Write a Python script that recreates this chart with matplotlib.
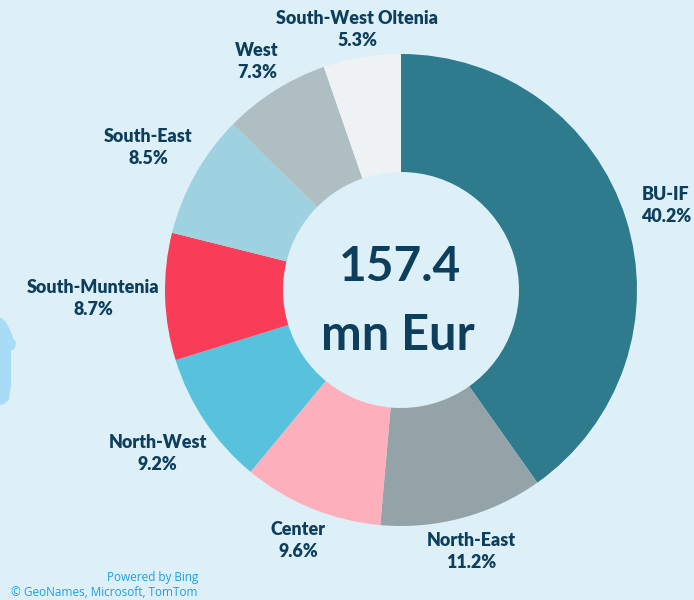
import matplotlib.pyplot as plt
import numpy as np
from matplotlib.patches import Polygon

regions = ["BU-IF", "North-East", "Center", "North-West", "South-Muntenia",
           "South-East", "West", "South-West Oltenia"]
shares = [40.2, 11.2, 9.6, 9.2, 8.7, 8.5, 7.3, 5.3]
colors = ["#2e7b8e", "#94a3a8", "#fdb0bc", "#58c2dc", "#f93c58",
          "#9ed2e0", "#afbec3", "#eef2f4"]
total_label = ["157.4", "mn Eur"]

BG = "#ddf0f8"
TEXT = "#0d3f5c"
W, H = 694, 600
CX, CY = 401, 310  # y measured from bottom
R_OUT, R_IN = 236, 118
# radial distance of each label block centre from the pie centre
label_dist = [278, 271, 271, 293, 308, 290, 270, 264]

fig = plt.figure(figsize=(W / 100, H / 100), dpi=100, facecolor=BG)
ax = fig.add_axes([0, 0, 1, 1])
ax.set_facecolor(BG)

wedges, _ = ax.pie(shares, colors=colors, startangle=90, counterclock=False,
                   center=(CX, CY), radius=R_OUT,
                   wedgeprops={"width": R_OUT - R_IN, "linewidth": 0})
ax.set_xlim(0, W)
ax.set_ylim(0, H)
ax.set_aspect("equal")
ax.axis("off")

font = {"family": ["Lato", "DejaVu Sans"], "weight": "heavy", "color": TEXT}
cum = np.cumsum([0] + shares[:-1])
for name, val, c, d in zip(regions, shares, cum, label_dist):
    ang = np.deg2rad(90 - (c + val / 2) * 3.6)
    x = CX + d * np.cos(ang)
    y = CY + d * np.sin(ang)
    ax.text(x, y + 11, name, ha="center", va="center", fontsize=12.9, **font)
    ax.text(x, y - 11, f"{val:.1f}%", ha="center", va="center", fontsize=12.9, **font)

big = dict(font, weight="bold")
ax.text(CX - 1, CY + 23, total_label[0], ha="center", va="center", fontsize=34.5, **big)
ax.text(CX - 3, CY - 45, total_label[1], ha="center", va="center", fontsize=35, **big)

# bit of map land peeking in at the left edge
land = [(0, 283), (6, 278), (11, 268), (13, 262), (16, 258), (15, 252), (11, 249),
        (11, 215), (9, 200), (4, 196), (0, 195)]
ax.add_patch(Polygon(land, closed=True, facecolor="#a8dcf6", edgecolor="none"))

attr = {"family": ["Open Sans", "DejaVu Sans"], "color": "#1e9fe0", "fontsize": 8.5}
ax.text(198, 23, "Powered by Bing", ha="right", va="center", **attr)
ax.text(198, 7, "\u00a9 GeoNames, Microsoft, TomTom", ha="right", va="center", **attr)

fig.savefig("out.png", dpi=100, facecolor=BG)
